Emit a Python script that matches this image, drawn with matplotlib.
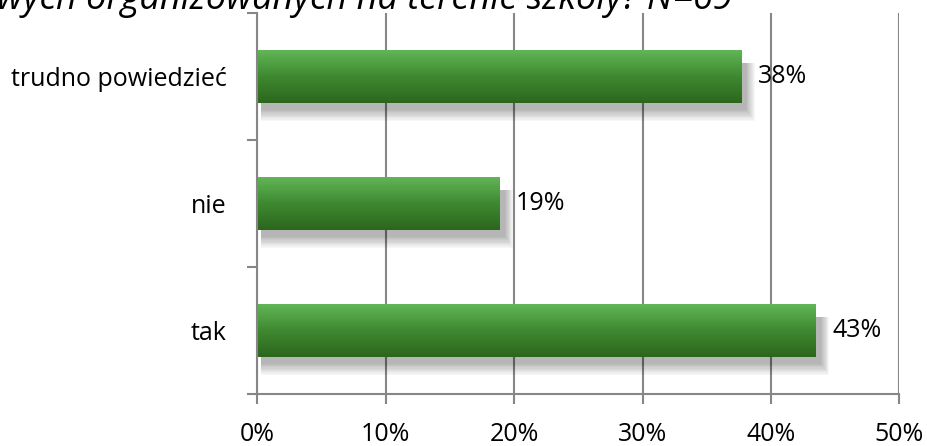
import numpy as np
import matplotlib
matplotlib.use("Agg")
import matplotlib.pyplot as plt
from matplotlib.colors import LinearSegmentedColormap
from matplotlib.patches import Rectangle

# dane
kategorie = ["tak", "nie", "trudno powiedzieć"]
wartosci = [43.5, 18.9, 37.7]
etykiety = ["43%", "19%", "38%"]
tytul = "wych organizowanych na terenie szkoły? N=69"

plt.rcParams['font.family'] = ['Open Sans', 'DejaVu Sans']

fig = plt.figure(figsize=(9.28, 4.46), dpi=100)
W, H = 928, 446
ax = fig.add_axes([257 / W, (H - 394) / H, (899.5 - 257) / W, (394 - 13) / H])

szary = '#868686'
zielen = LinearSegmentedColormap.from_list('z', ['#2c661d', '#3f8a31', '#62b758'])
grad = np.linspace(0, 1, 100).reshape(-1, 1)

wys = 0.42
for i, v in enumerate(wartosci):
    # miekki cien pod slupkiem (przesuniety w dol)
    for k in range(10):
        d = k * 0.01
        ax.add_patch(Rectangle((0.3, i - wys / 2 - 0.05 - d),
                               v + 0.1 + k * 0.07, wys - 0.05 + d,
                               facecolor='black', alpha=0.03, lw=0, zorder=2))
    im = ax.imshow(grad, cmap=zielen, aspect='auto', origin='lower',
                   extent=(0, v, i - wys / 2, i + wys / 2), zorder=3)
    r = Rectangle((0, i - wys / 2), v, wys, transform=ax.transData)
    im.set_clip_path(r)
    ax.text(v + 1.25, i, etykiety[i], va='center', ha='left', fontsize=18,
            color='black', zorder=4)

ax.set_xlim(0, 50)
ax.set_ylim(-0.5, 2.5)
ax.set_xticks(np.arange(0, 51, 10))
ax.set_xticklabels([f"{x}%" for x in range(0, 51, 10)], fontsize=18)
ax.set_yticks(range(3))
ax.set_yticklabels(kategorie, fontsize=18)
ax.set_yticks([-0.5, 0.5, 1.5, 2.5], minor=True)
ax.tick_params(axis='y', which='major', length=0, pad=22)
ax.tick_params(axis='y', which='minor', length=7, width=1.5, color=szary)
ax.tick_params(axis='x', length=7, width=1.5, color=szary, pad=13)

ax.grid(axis='x', color=szary, lw=1.5, zorder=1)
ax.set_axisbelow(True)
for s in ['top', 'right']:
    ax.spines[s].set_visible(False)
for s in ['left', 'bottom']:
    ax.spines[s].set_color(szary)
    ax.spines[s].set_linewidth(1.5)
    ax.spines[s].set_zorder(5)

fig.text(-0.003, 1 - 9 / H, tytul, ha='left', va='baseline', fontsize=26,
         style='italic', color='black')

fig.savefig("out.png", dpi=100)
